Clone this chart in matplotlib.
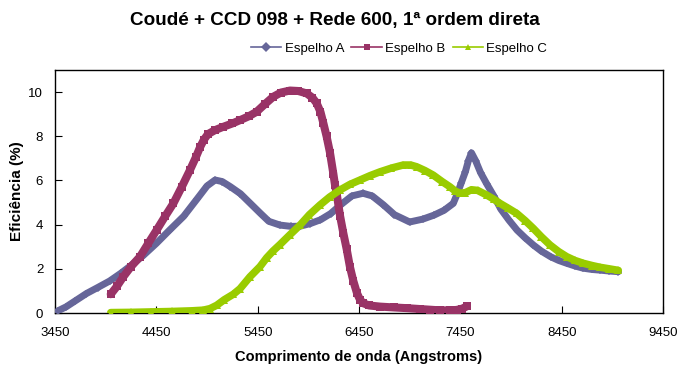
import matplotlib
matplotlib.use("Agg")
import matplotlib.pyplot as plt
from matplotlib.lines import Line2D

plt.rcParams['font.family'] = ['Liberation Sans', 'DejaVu Sans']

series_names = ["Espelho A", "Espelho B", "Espelho C"]
colors = ["#666699", "#993366", "#99CC00"]
markers = ["D", "s", "^"]

a_x = [3480, 3560, 3650, 3760, 3870, 3990, 4100, 4200, 4320, 4450, 4580, 4720, 4850, 4950,
       5030, 5100, 5180, 5280, 5380, 5480, 5560, 5670, 5780, 5870, 5970, 6070, 6170, 6270,
       6380, 6490, 6580, 6690, 6800, 6950, 7080, 7190, 7290, 7380, 7420, 7460, 7500, 7530,
       7560, 7600, 7650, 7710, 7780, 7850, 7930, 8010, 8090, 8170, 8250, 8340, 8420, 8500,
       8580, 8660, 8750, 8830, 8920, 9010]
a_y = [0.10, 0.28, 0.55, 0.88, 1.15, 1.45, 1.80, 2.15, 2.60, 3.15, 3.75, 4.38, 5.15, 5.75,
       6.02, 5.95, 5.72, 5.40, 4.95, 4.50, 4.15, 3.98, 3.92, 3.93, 4.05, 4.22, 4.50, 4.90,
       5.30, 5.42, 5.30, 4.90, 4.45, 4.12, 4.25, 4.43, 4.65, 4.96, 5.40, 5.90, 6.40, 6.90,
       7.25, 6.90, 6.35, 5.85, 5.30, 4.70, 4.20, 3.75, 3.40, 3.08, 2.80, 2.55, 2.38, 2.25,
       2.13, 2.03, 1.97, 1.94, 1.90, 1.87]

b_x = [4000, 4060, 4124, 4200, 4289, 4370, 4454, 4540, 4618, 4700, 4782, 4840, 4881, 4920,
       4960, 5030, 5111, 5200, 5276, 5360, 5440, 5520, 5604, 5680, 5769, 5850, 5934, 5990,
       6033, 6070, 6098, 6130, 6164, 6197, 6213, 6230, 6263, 6296, 6328, 6360, 6394, 6430,
       6460, 6493, 6550, 6657, 6800, 6920, 7050, 7150, 7249, 7350, 7414, 7470, 7513]
b_y = [0.85, 1.20, 1.64, 2.10, 2.55, 3.15, 3.76, 4.40, 4.96, 5.70, 6.47, 7.05, 7.50, 7.85,
       8.10, 8.28, 8.43, 8.58, 8.73, 8.90, 9.11, 9.45, 9.79, 9.98, 10.07, 10.05, 9.94, 9.75,
       9.49, 9.10, 8.60, 8.00, 7.25, 6.30, 5.80, 5.40, 4.40, 3.60, 2.90, 2.10, 1.45, 0.90,
       0.60, 0.44, 0.34, 0.29, 0.25, 0.22, 0.18, 0.15, 0.12, 0.12, 0.14, 0.20, 0.30]

c_x = [4000, 4200, 4400, 4600, 4800, 4914, 4980, 5046, 5120, 5210, 5276, 5374, 5473, 5539,
       5600, 5670, 5770, 5868, 5960, 6065, 6160, 6263, 6360, 6460, 6560, 6657, 6770, 6887,
       6960, 7019, 7100, 7183, 7270, 7348, 7400, 7447, 7500, 7560, 7620, 7710, 7780, 7842,
       7920, 8006, 8090, 8170, 8250, 8335, 8420, 8500, 8580, 8664, 8750, 8829, 8920, 9009]
c_y = [0.02, 0.03, 0.05, 0.07, 0.10, 0.13, 0.20, 0.35, 0.60, 0.85, 1.10, 1.64, 2.10, 2.50,
       2.80, 3.10, 3.55, 3.98, 4.45, 4.89, 5.25, 5.57, 5.82, 6.02, 6.22, 6.39, 6.56, 6.70,
       6.70, 6.62, 6.45, 6.24, 5.95, 5.71, 5.52, 5.42, 5.45, 5.58, 5.55, 5.34, 5.15, 4.96,
       4.75, 4.51, 4.18, 3.83, 3.45, 3.08, 2.78, 2.55, 2.38, 2.25, 2.15, 2.07, 2.00, 1.93]

xs = [a_x, b_x, c_x]
ys = [a_y, b_y, c_y]
lws = [5.0, 5.8, 5.4]
msz = [4.2, 5.6, 5.6]

x_ticks = [3450, 4450, 5450, 6450, 7450, 8450, 9450]
y_ticks = [0, 2, 4, 6, 8, 10]

fig = plt.figure(figsize=(6.94, 3.74), dpi=100)
ax = fig.add_axes([55/694, 61/374, 608/694, 243/374])

for x, y, c, m, lw, ms in zip(xs, ys, colors, markers, lws, msz):
    ax.plot(x, y, color=c, lw=lw, solid_joinstyle='round', solid_capstyle='round',
            marker=m, markersize=ms, markeredgewidth=0, zorder=3)

ax.set_xlim(3450, 9450)
ax.set_ylim(0, 11)
ax.set_xticks(x_ticks)
ax.set_yticks(y_ticks)
ax.tick_params(direction='in', length=5, width=0.8, labelsize=9.5, colors='black')
ax.tick_params(axis='x', pad=10)
ax.tick_params(axis='y', pad=8.5)
for s in ax.spines.values():
    s.set_linewidth(1.0)
    s.set_color('black')

ax.set_xlabel("Comprimento de onda (Angstroms)", fontsize=10.5, fontweight='bold', labelpad=8)
ax.set_ylabel("Eficiência (%)", fontsize=11, fontweight='bold', labelpad=3)

fig.text(0.483, 0.945, "Coudé + CCD 098 + Rede 600, 1ª ordem direta",
         ha='center', va='center', fontsize=13.6, fontweight='bold')

handles = [Line2D([0], [0], color=c, lw=1.2, marker=m, markersize=5, markeredgewidth=0)
           for c, m in zip(colors, markers)]
fig.legend(handles, series_names, loc='center', bbox_to_anchor=(399/694, 1 - 49/374), ncol=3,
           frameon=False, fontsize=9.5, handlelength=2.3, columnspacing=0.55,
           handletextpad=0.25)

fig.savefig("out.png", dpi=100, facecolor='white')
